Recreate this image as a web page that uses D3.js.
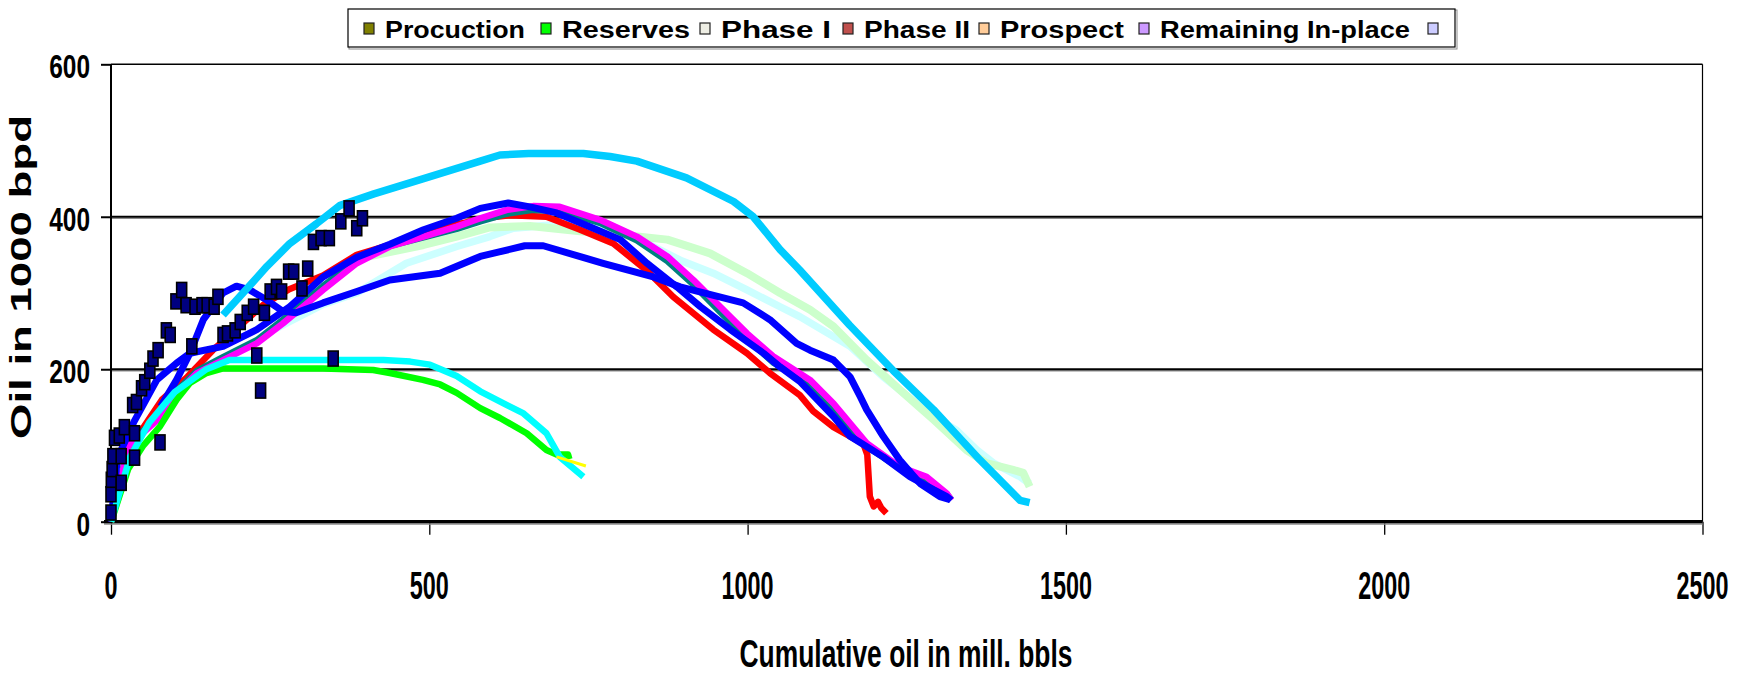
<!DOCTYPE html>
<html><head><meta charset="utf-8">
<script src="https://cdn.jsdelivr.net/npm/d3@7"></script>
<style>
body{margin:0;background:#fff;}
svg{display:block;font-family:Arial,"Liberation Sans",sans-serif;font-weight:bold;}
</style>
</head><body><svg id="c" width="1752" height="676"></svg>
<script>
// ---------- DATA ----------
const xTicks = [0, 500, 1000, 1500, 2000, 2500];
const yTicks = [0, 200, 400, 600];
const legendLabels = ["Procuction", "Reserves", "Phase I", "Phase II", "Prospect", "Remaining In-place", ""];
const legendColors = ["#808000", "#00ff00", "#eeeee4", "#c0504d", "#ffcc99", "#cc99ff", "#ccccff"];

const prodX = [0,0,0.5,1.8,3,5.5,13,16,16,21,37,37,34,40,48,53,61,66,74,77,87,93,102,111,118,132,143,151,162,168,127,176,183,195,203,214,224,229,235,241,250,260,268,279,287,300,309,318,330,343,349,361,374,386,395];
const prodY = [12,36,55,69,86,110,113,86,51,124,116,84,153,157,175,183,198,214,225,104,251,245,289,304,284,282,284,284,282,295,230,245,247,251,262,274,282,218,172,274,302,308,302,328,328,306,332,367,372,372,214,394,411,385,398];

const lightCyanX = [255,270,333,386,464,543,595,632,700,726,789,842,894,946,999,1051,1082,1161,1213,1292,1328,1360,1386,1428,1443];
const lightCyanY = [252,258,285,300,339,361,374,385,390,391,387,365,343,326,304,282,269,230,190,138,120,94,77,59,50];

const lightGreenX = [394,491,543,595,658,737,805,874,941,999,1051,1098,1135,1187,1239,1292,1344,1375,1417,1433,1443];
const lightGreenY = [346,363,374,386,388,381,376,370,352,326,300,278,256,212,173,134,94,77,68,64,46];

const redX = [0,15,40,80,120,160,200,240,280,333,386,438,490,543,595,627,684,737,789,841,883,946,999,1035,1082,1103,1135,1182,1188,1192,1198,1205,1210,1218];
const redY = [0,50,110,160,190,225,255,285,305,323,350,363,378,390,399,402,400,383,365,330,295,252,221,195,166,145,124,102,88,33,20,26,18,11];

const magentaX = [0,10,27,72,98,135,176,229,270,333,386,438,491,543,580,622,663,705,768,826,874,915,957,999,1040,1098,1135,1187,1239,1281,1313,1320];
const magentaY = [0,33,99,133,164,195,212,234,260,304,339,361,374,387,398,409,414,413,396,374,348,317,282,247,217,186,155,103,72,59,37,28];
const tealY    = [0,35,101,136,167,198,216,238,265,309,343,362,373,384,394,404,409,408,392,369,342,311,275,240,209,180,149,99,70,56,36,29];

const blueBX = [0,10,36,72,103,124,176,229,281,333,386,438,491,543,580,624,658,700,752,800,842,889,926,973,1025,1051,1082,1135,1161,1213,1255,1292,1313,1320];
const blueBY = [0,83,131,186,208,221,230,252,282,321,347,364,383,398,411,418,413,405,387,370,339,308,282,252,221,203,184,138,112,85,59,42,33,28];

const blueAX = [78,103,124,145,176,197,218,244,270,291,333,386,438,517,580,650,679,773,852,894,993,1035,1077,1098,1135,1161,1177,1187,1213,1239,1271,1302,1318];
const blueAY = [151,186,221,265,300,309,304,291,276,274,287,302,317,326,348,362,362,339,321,308,287,265,234,225,212,190,164,147,112,81,50,33,29];

const greenX = [0,3,27,50,77,103,124,150,176,229,333,412,438,490,517,543,580,611,653,684,700,718,720];
const greenY = [0,7,69,99,125,160,182,195,201,201,201,199,195,186,180,169,149,136,116,94,88,88,82];

const cyanX = [0,30,60,100,150,186,260,350,428,470,501,543,580,622,648,684,705,742];
const cyanY = [0,85,130,170,200,212,212,212,212,210,206,191,171,153,142,116,85,59];

const yellowX = [700,746];
const yellowY = [85,73];

const skyX = [176,202,245,281,323,360,413,491,580,611,656,742,784,826,904,978,1009,1051,1082,1160,1229,1292,1365,1428,1443];
const skyY = [271,295,335,365,391,415,430,450,473,481,483,483,479,473,451,420,400,357,330,258,198,147,81,28,25];

// ---------- CHART ----------
const svg = d3.select("#c");
svg.append("rect").attr("width",1752).attr("height",676).attr("fill","#fff");

const x = d3.scaleLinear().domain([0,2500]).range([111,1702.5]);
const y = d3.scaleLinear().domain([0,600]).range([521.7,64.3]);

// gridlines
[200,400].forEach(v=>{
  svg.append("line").attr("x1",x(0)).attr("x2",x(2500)).attr("y1",y(v)+1.5).attr("y2",y(v)+1.5)
    .attr("stroke","#8c8c8c").attr("stroke-width",1.5);
  svg.append("line").attr("x1",x(0)).attr("x2",x(2500)).attr("y1",y(v)).attr("y2",y(v))
    .attr("stroke","#000").attr("stroke-width",2.2);
});
// top + right border
svg.append("line").attr("x1",x(0)).attr("x2",x(2500)).attr("y1",y(600)).attr("y2",y(600)).attr("stroke","#000").attr("stroke-width",1.5);
svg.append("line").attr("x1",x(2500)).attr("x2",x(2500)).attr("y1",y(600)).attr("y2",y(0)).attr("stroke","#000").attr("stroke-width",1.2);

// axes
const xAxis = d3.axisBottom(x).tickValues(xTicks).tickSize(13).tickFormat("");
const gx = svg.append("g").attr("transform",`translate(0,${y(0)})`).call(xAxis);
gx.select(".domain").remove();
gx.selectAll(".tick line").attr("stroke","#000").attr("stroke-width",1.3);

const yAxis = d3.axisLeft(y).tickValues(yTicks).tickSize(10).tickFormat("");
const gy = svg.append("g").attr("transform",`translate(${x(0)},0)`).call(yAxis);
gy.select(".domain").remove();
gy.selectAll(".tick line").attr("stroke","#000").attr("stroke-width",2);

svg.append("line").attr("x1",x(0)).attr("x2",x(0)).attr("y1",y(600)).attr("y2",y(0)).attr("stroke","#000").attr("stroke-width",2);
svg.append("line").attr("x1",x(0)-7).attr("x2",x(2500)).attr("y1",y(0)+2.3).attr("y2",y(0)+2.3).attr("stroke","#8c8c8c").attr("stroke-width",1.5);
svg.append("line").attr("x1",x(0)-7).attr("x2",x(2500)).attr("y1",y(0)).attr("y2",y(0)).attr("stroke","#000").attr("stroke-width",3.2);

// tick labels
svg.selectAll(".xl").data(xTicks).enter().append("text")
  .attr("x",d=>x(d)).attr("y",598.5).attr("text-anchor","middle")
  .attr("font-size",38).attr("textLength",d=>String(d).length*13).attr("lengthAdjust","spacingAndGlyphs")
  .text(d=>d);
svg.selectAll(".yl").data(yTicks).enter().append("text")
  .attr("x",90).attr("y",d=>y(d)+14).attr("text-anchor","end")
  .attr("font-size",34).attr("textLength",d=>String(d).length*13.6).attr("lengthAdjust","spacingAndGlyphs")
  .text(d=>d);

// axis titles
svg.append("text").attr("x",906).attr("y",667).attr("text-anchor","middle")
  .attr("font-size",38).attr("textLength",333).attr("lengthAdjust","spacingAndGlyphs")
  .text("Cumulative oil in mill. bbls");
svg.append("text").attr("transform","translate(31,277) rotate(-90)").attr("text-anchor","middle")
  .attr("font-size",30).attr("textLength",324).attr("lengthAdjust","spacingAndGlyphs")
  .text("Oil in 1000 bpd");

// lines
const zip = (a,b)=>a.map((v,i)=>[v,b[i]]);
const series = [
  {d: zip(lightCyanX, lightCyanY), c:"#ccffff", w:7.5},
  {d: zip(lightGreenX, lightGreenY), c:"#ccffcc", w:8},
  {d: zip(redX, redY), c:"#ff0000", w:6.5},
  {d: zip(magentaX, tealY), c:"#008080", w:6.5},
  {d: zip(magentaX, magentaY), c:"#ff00ff", w:6.5},
  {d: zip(blueBX, blueBY), c:"#0000ff", w:7},
  {d: zip(blueAX, blueAY), c:"#0000ff", w:7},
  {d: zip(greenX, greenY), c:"#00ff00", w:6.5},
  {d: zip(cyanX, cyanY), c:"#00ffff", w:6.5},
  {d: zip(yellowX, yellowY), c:"#ffff00", w:3},
  {d: zip(skyX, skyY), c:"#00ccff", w:7.5}
];
const line = d3.line().x(d=>x(d[0])).y(d=>y(d[1]));
series.forEach(s=>{
  svg.append("path").attr("d",line(s.d)).attr("fill","none").attr("stroke",s.c)
    .attr("stroke-width",s.w).attr("stroke-linejoin","round");
});

// production markers
svg.selectAll(".pm").data(zip(prodX,prodY)).enter().append("rect")
  .attr("x",d=>x(d[0])-5).attr("y",d=>y(d[1])-7.5).attr("width",10).attr("height",15)
  .attr("fill","#000080").attr("stroke","#000").attr("stroke-width",1.6);

// legend
svg.append("rect").attr("x",349).attr("y",10).attr("width",1108).attr("height",39).attr("fill","none").attr("stroke","#8c8c8c").attr("stroke-width",1);
svg.append("rect").attr("x",348).attr("y",9).attr("width",1107).attr("height",38).attr("fill","#fff").attr("stroke","#000").attr("stroke-width",1.2);
const legTextX = [385,562,721,864,1000,1160,1449];
const legTextW = [140,128,110,106,124,250,0];
legendLabels.forEach((lab,i)=>{
  svg.append("rect").attr("x",legTextX[i]-21).attr("y",23).attr("width",10).attr("height",11)
    .attr("fill",legendColors[i]).attr("stroke","#222").attr("stroke-width",1.2);
  if(lab) svg.append("text").attr("x",legTextX[i]).attr("y",38).attr("font-size",23)
    .attr("textLength",legTextW[i]).attr("lengthAdjust","spacingAndGlyphs").text(lab);
});
</script></body></html>
